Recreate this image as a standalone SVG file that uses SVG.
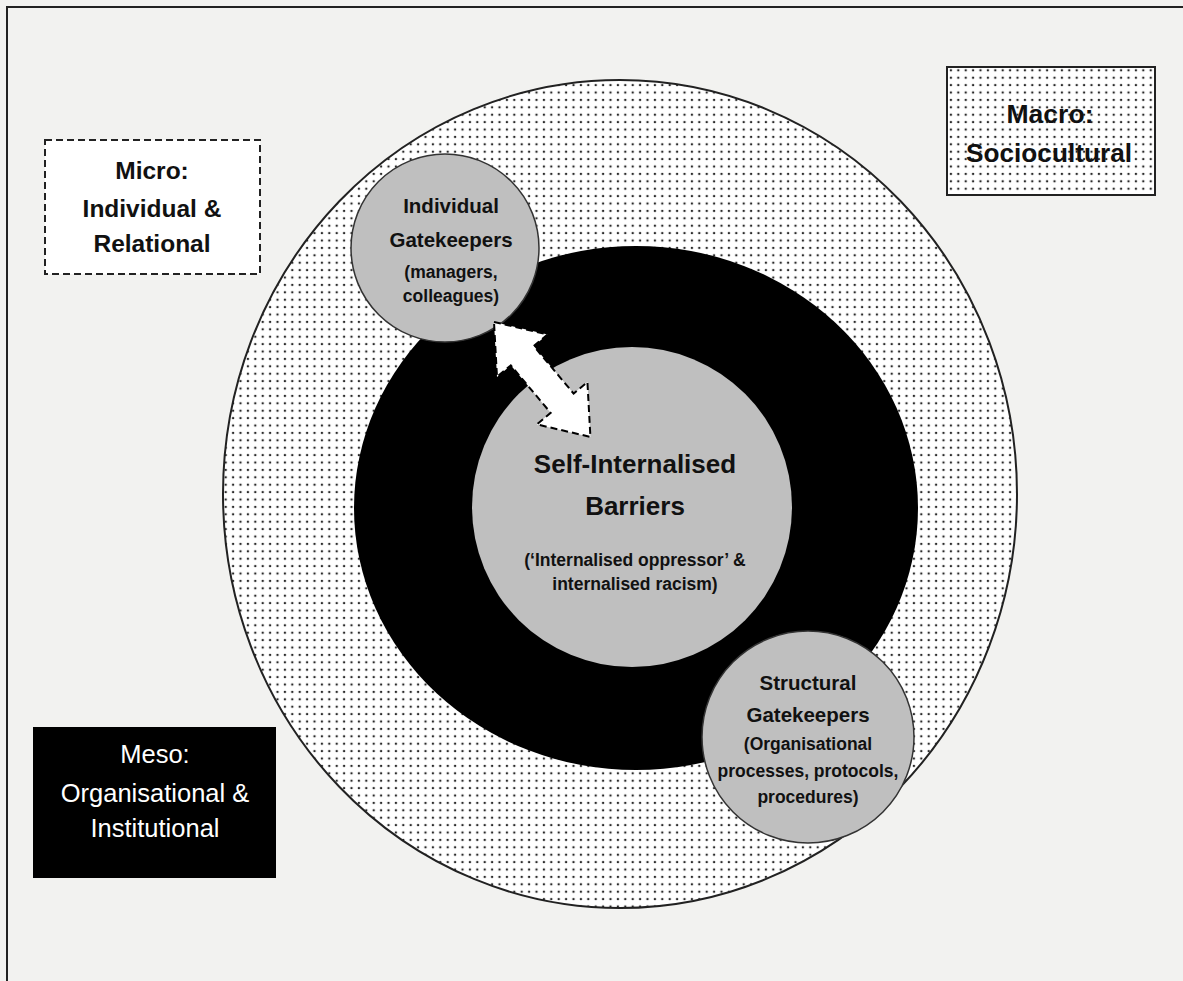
<svg xmlns="http://www.w3.org/2000/svg" width="1183" height="981" viewBox="0 0 1183 981">
<defs>
<pattern id="dots" width="7.4" height="7.4" patternUnits="userSpaceOnUse">
<rect width="7.4" height="7.4" fill="#ffffff"/>
<circle cx="3.7" cy="3.7" r="1.2" fill="#2a2a2a"/>
</pattern>
<style>
.b{font-family:"Liberation Sans",Arial,sans-serif;font-weight:bold;fill:#111;text-anchor:middle}
.w{font-family:"Liberation Sans",Arial,sans-serif;fill:#fff;text-anchor:middle}
.gc{fill:#bfbfbf;stroke:#333;stroke-width:1.5}
</style>
</defs>
<rect x="0" y="0" width="1183" height="981" fill="#f2f2f0"/>
<rect x="7" y="7" width="1200" height="1000" fill="none" stroke="#222" stroke-width="2"/>
<g id="macro-ring"><ellipse cx="620" cy="494" rx="397" ry="414" fill="url(#dots)" stroke="#222" stroke-width="2"/></g>
<g id="meso-ring"><ellipse cx="636" cy="508" rx="282" ry="262" fill="#000"/></g>
<g id="self-barriers">
<circle cx="632" cy="507" r="160" fill="#bfbfbf"/>
<text class="b" x="635" y="473" font-size="26">Self-Internalised</text>
<text class="b" x="635" y="515" font-size="26">Barriers</text>
<text class="b" x="635" y="566" font-size="17.5">(‘Internalised oppressor’ &amp;</text>
<text class="b" x="635" y="590" font-size="17.5">internalised racism)</text>
</g>
<g id="individual-gatekeepers">
<circle class="gc" cx="445" cy="248" r="94"/>
<text class="b" x="451" y="213" font-size="20.5">Individual</text>
<text class="b" x="451" y="247" font-size="20.5">Gatekeepers</text>
<text class="b" x="451" y="278" font-size="17.5">(managers,</text>
<text class="b" x="451" y="302" font-size="17.5">colleagues)</text>
</g>
<g id="structural-gatekeepers">
<circle class="gc" cx="808" cy="737" r="106"/>
<text class="b" x="808" y="690" font-size="20.5">Structural</text>
<text class="b" x="808" y="722" font-size="20.5">Gatekeepers</text>
<text class="b" x="808" y="750" font-size="17.5">(Organisational</text>
<text class="b" x="808" y="777" font-size="17.5">processes, protocols,</text>
<text class="b" x="808" y="803" font-size="17.5">procedures)</text>
</g>
<g id="connectors">
<polygon transform="translate(494,322) rotate(50)" points="0,0 44,-33 44,-15 106,-15 106,-33 150,0 106,33 106,15 44,15 44,33" fill="#fff" stroke="#000" stroke-width="2" stroke-dasharray="7,4"/>
</g>
<g id="micro-label">
<rect x="45" y="140" width="215" height="134" fill="#fff" stroke="#222" stroke-width="2" stroke-dasharray="7,4"/>
<text class="b" x="152" y="179" font-size="24.5">Micro:</text>
<text class="b" x="152" y="217" font-size="24.5">Individual &amp;</text>
<text class="b" x="152" y="252" font-size="24.5">Relational</text>
</g>
<g id="macro-label">
<rect x="947" y="67" width="208" height="128" fill="url(#dots)" stroke="#222" stroke-width="2"/>
<text class="b" x="1050" y="123" font-size="25" textLength="87" lengthAdjust="spacingAndGlyphs">Macro:</text>
<text class="b" x="1049" y="162" font-size="25" textLength="166" lengthAdjust="spacingAndGlyphs">Sociocultural</text>
</g>
<g id="meso-label">
<rect x="33" y="727" width="243" height="151" fill="#000"/>
<text class="w" x="155" y="763" font-size="25.5">Meso:</text>
<text class="w" x="155" y="802" font-size="25.5">Organisational &amp;</text>
<text class="w" x="155" y="837" font-size="25.5">Institutional</text>
</g>
</svg>
